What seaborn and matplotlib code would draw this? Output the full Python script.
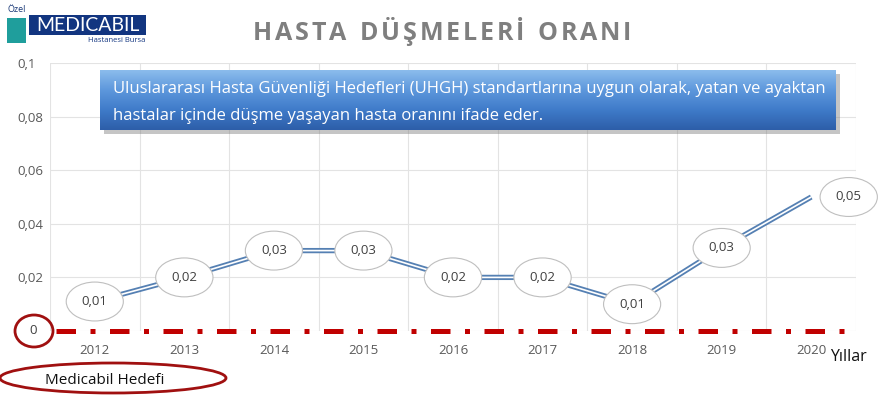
import numpy as np
import pandas as pd
import matplotlib
matplotlib.use("Agg")
import matplotlib.pyplot as plt
from matplotlib.patches import Ellipse, Rectangle
from matplotlib.colors import LinearSegmentedColormap
import seaborn as sns

# Chart data
yillar = ["2012", "2013", "2014", "2015", "2016", "2017", "2018", "2019", "2020"]
oran = [0.011, 0.020, 0.030, 0.030, 0.020, 0.020, 0.010, 0.031, 0.050]
hedef = 0
y_ticks = [0.02, 0.04, 0.06, 0.08, 0.1]

baslik = "HASTA DÜŞMELERİ ORANI"
aciklama = ["Uluslararası Hasta Güvenliği Hedefleri (UHGH) standartlarına uygun olarak, yatan ve ayaktan",
            "hastalar içinde düşme yaşayan hasta oranını ifade eder."]

sns.set_style("white")
plt.rcParams['font.family'] = ['Open Sans', 'DejaVu Sans']

W, H = 879, 397
fig = plt.figure(figsize=(W / 100, H / 100), dpi=100)


def fx(x):
    return x / W


def fy(y):
    return 1 - y / H


# main axes (pixel box 50..856 x 63..331)
ax = fig.add_axes([fx(50), fy(331), fx(856) - fx(50), fy(63) - fy(331)])
ax.set_facecolor("none")

df = pd.DataFrame({"pos": np.arange(len(yillar)), "oran": oran})

# double (compound) line: blue outer, white core
sns.lineplot(data=df, x="pos", y="oran", ax=ax, color="#5580b3", linewidth=3.8,
             solid_capstyle="butt", zorder=3)
sns.lineplot(data=df, x="pos", y="oran", ax=ax, color="white", linewidth=1.2,
             solid_capstyle="butt", zorder=4)

# target line at 0
ax.axhline(hedef, xmin=0.008, xmax=0.99, color="#c00000", linewidth=3.6,
           dashes=(3.9, 2.9, 1.0, 2.9), dash_capstyle="butt", zorder=5, clip_on=False)

ax.set_xlim(-0.5, len(yillar) - 0.5)
ax.set_ylim(0, 0.1)

# grid
ax.set_yticks([0] + y_ticks)
ax.set_yticklabels([""] + [f"{v:g}".replace(".", ",") for v in y_ticks])
for lab in ax.get_yticklabels():
    lab.set_horizontalalignment("left")
ax.set_xticks(np.arange(len(yillar)))
ax.set_xticklabels(yillar)
ax.set_xticks(np.arange(len(yillar) + 1) - 0.5, minor=True)
ax.grid(False)
ax.grid(True, axis="y", which="major", color="#e3e3e3", linewidth=0.8)
ax.grid(True, axis="x", which="minor", color="#e3e3e3", linewidth=0.8)
ax.tick_params(axis="y", length=0, pad=23.8, labelsize=9.5, labelcolor="#595959")
ax.tick_params(axis="x", which="both", length=0, pad=9, labelsize=9.5, labelcolor="#595959")
ax.set_xlabel("")
ax.set_ylabel("")
for s in ax.spines.values():
    s.set_visible(False)

# data labels in ellipses
for i, v in enumerate(oran):
    dx = 27 if i == len(oran) - 1 else 0
    ax.annotate(f"{v:.2f}".replace(".", ","), (i, v), xytext=(dx, 0),
                textcoords="offset points", ha="center", va="center",
                fontsize=9.5, color="#404040", zorder=6,
                bbox=dict(boxstyle="ellipse,pad=0.55", fc="white", ec="#bfbfbf", lw=0.8))

# title, drawn letter by letter for the wide tracking
renderer = fig.canvas.get_renderer()
harfler = []
toplam = 0
aralik = 2.8
for ch in baslik:
    t = fig.text(0, fy(34), ch, ha="left", va="center", fontsize=18,
                 fontweight="bold", color="#7f7f7f")
    w = t.get_window_extent(renderer).width if ch != " " else 8
    harfler.append((t, w))
    toplam += w + aralik
toplam -= aralik
xpos = 442 - toplam / 2
for t, w in harfler:
    t.set_x(fx(xpos))
    xpos += w + aralik

# logo
fig.text(fx(8), fy(9), "Özel", fontsize=6.5, color="#1b3a78", va="center")
fig.add_artist(Rectangle((fx(7), fy(43)), fx(19), fy(18) - fy(43), transform=fig.transFigure,
                         fc="#1f9e9c", ec="none"))
fig.add_artist(Rectangle((fx(29), fy(35)), fx(117), fy(15) - fy(35), transform=fig.transFigure,
                         fc="#123580", ec="none"))
fig.text(fx(88), fy(25.5), "MEDICABIL", ha="center", va="center", fontsize=14,
         color="white", family=["Lato", "DejaVu Sans"])
fig.text(fx(145), fy(41), "Hastanesi Bursa", ha="right", va="center", fontsize=5.5,
         color="#123580")

# info box with gradient and shadow
golge = Rectangle((fx(104), fy(134)), fx(736), fy(70) - fy(130), transform=fig.transFigure,
                  fc="#7f7f7f", ec="none", alpha=0.45, zorder=1.5)
fig.add_artist(golge)
bx = fig.add_axes([fx(100), fy(130), fx(736), fy(70) - fy(130)])
bx.set_zorder(2)
cmap = LinearSegmentedColormap.from_list("kutu", ["#2d5ea9", "#3f7bc9", "#5d97dc", "#8bbcec"])
bx.imshow(np.linspace(0, 1, 100).reshape(-1, 1), aspect="auto", cmap=cmap,
          origin="lower", extent=[0, 1, 0, 1])
bx.set_xlim(0, 1)
bx.set_ylim(0, 1)
bx.axis("off")
bx.text(0.017, 0.68, aciklama[0], color="white", fontsize=12, va="center")
bx.text(0.017, 0.24, aciklama[1], color="white", fontsize=12, va="center")

# circled zero and target legend
fig.text(fx(33), fy(331), "0", ha="center", va="center", fontsize=9.5, color="#404040")
fig.add_artist(Ellipse((fx(34), fy(331)), fx(38), fy(0) - fy(32), transform=fig.transFigure,
                       fc="none", ec="#a01010", lw=2))
fig.text(fx(830), fy(357), "Yıllar", ha="left", va="center", fontsize=11.5, color="#111111")
fig.add_artist(Ellipse((fx(113), fy(378)), fx(226), fy(0) - fy(30), transform=fig.transFigure,
                       fc="none", ec="#a01010", lw=2))
fig.text(fx(45), fy(380), "Medicabil Hedefi", ha="left", va="center", fontsize=11, color="#111111")

fig.savefig("out.png", dpi=100)
